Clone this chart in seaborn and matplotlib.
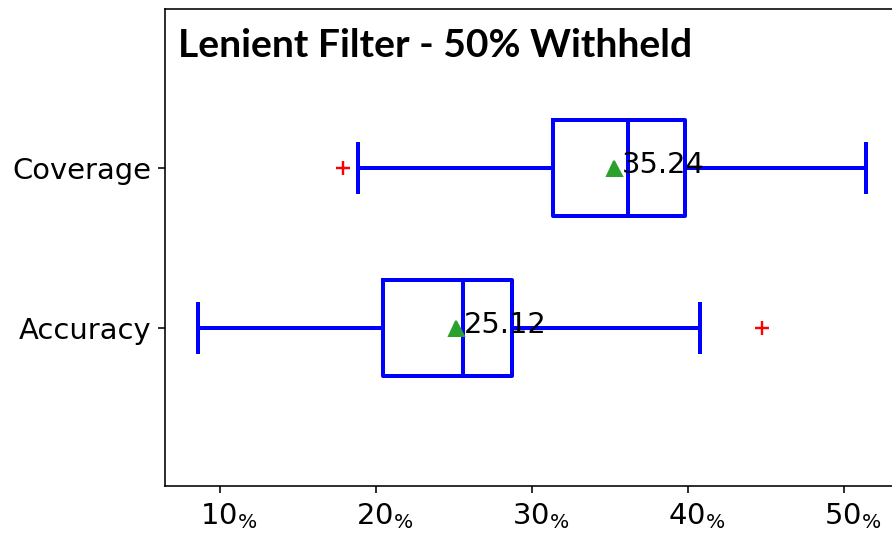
import numpy as np
import pandas as pd
import matplotlib
matplotlib.use("Agg")
import matplotlib.pyplot as plt
import matplotlib.transforms as mtransforms
from matplotlib.ticker import FixedLocator, FuncFormatter
import seaborn as sns

categories = ["Coverage", "Accuracy"]
coverage_values = [17.88, 18.82, 31.33, 34.00, 36.15, 38.00, 39.83, 49.74, 51.41]
accuracy_values = [8.58, 10.00, 20.44, 21.50, 25.58, 25.75, 28.72, 40.77, 44.74]
x_ticks = [10, 20, 30, 40, 50]
title_text = "Lenient Filter - 50% Withheld"

df = pd.DataFrame({
    "metric": ["Coverage"] * len(coverage_values) + ["Accuracy"] * len(accuracy_values),
    "value": coverage_values + accuracy_values,
})

fig = plt.figure(figsize=(6.2, 3.72), dpi=144)
ax = fig.add_axes([0.1848, 0.0914, 0.822, 0.8899])

line_kw = dict(color="blue", linewidth=2)
sns.boxplot(
    data=df, x="value", y="metric", order=categories, orient="h",
    width=0.6, fill=False, color="blue", linewidth=2, whis=1.5,
    showmeans=True,
    meanprops=dict(marker="^", markerfacecolor="#2ca02c", markeredgecolor="#2ca02c", markersize=7.5),
    flierprops=dict(marker="+", markeredgecolor="red", markerfacecolor="red",
                    markersize=7, markeredgewidth=1.2),
    boxprops=line_kw,
    medianprops=line_kw, whiskerprops=line_kw, capprops=line_kw,
    ax=ax,
)

for i, vals in enumerate([coverage_values, accuracy_values]):
    m = np.mean(vals)
    ax.text(m + 0.5, i + 0.03, f"{m:.2f}", fontsize=14.5, ha="left", va="baseline", zorder=5)

ax.set_xlim(6.474, 53.53)
ax.set_ylim(1.99, -0.99)
ax.xaxis.set_major_locator(FixedLocator(x_ticks))
ax.xaxis.set_major_formatter(FuncFormatter(lambda v, p: f"{v:.0f}" + r"$_{\%}$"))
ax.tick_params(axis="both", labelsize=14.5)
ax.set_xlabel("")
ax.set_ylabel("")
for s in ax.spines.values():
    s.set_visible(True)
    s.set_color("black")

offset = mtransforms.ScaledTranslation(9 / 144, 0, fig.dpi_scale_trans)
for lab in ax.get_xticklabels():
    lab.set_transform(lab.get_transform() + offset)

ax.text(0.018, 0.962, title_text, transform=ax.transAxes, ha="left", va="top",
        fontsize=19.5, fontweight="bold", family=["Lato", "DejaVu Sans"])

fig.savefig("out.png", dpi=144)
